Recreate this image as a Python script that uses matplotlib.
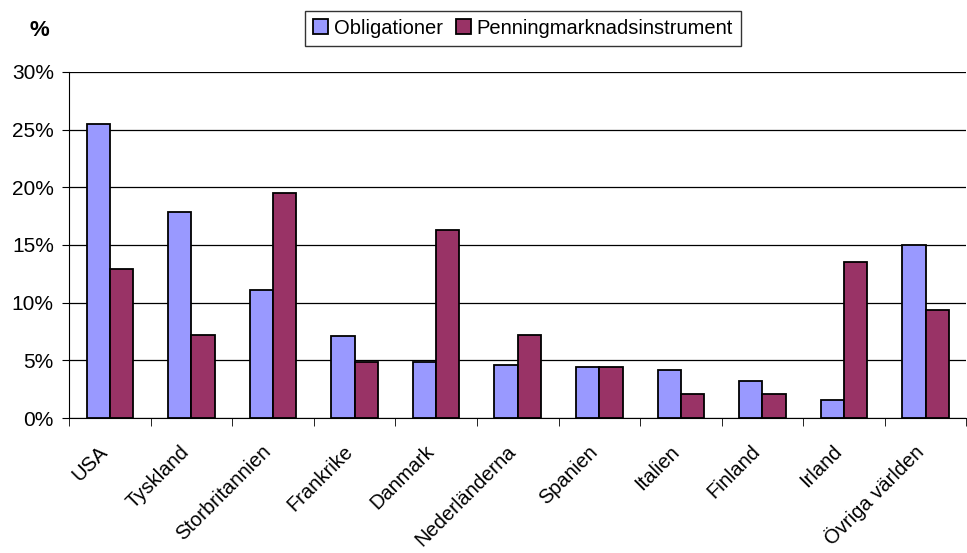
import matplotlib
matplotlib.use("Agg")
import matplotlib.pyplot as plt
import matplotlib.transforms as mtransforms
import numpy as np

plt.rcParams['font.family'] = ['Liberation Sans', 'DejaVu Sans']

lander = ["USA", "Tyskland", "Storbritannien", "Frankrike", "Danmark",
          "Nederländerna", "Spanien", "Italien", "Finland", "Irland", "Övriga världen"]
obligationer = [25.5, 17.9, 11.1, 7.1, 4.9, 4.6, 4.4, 4.2, 3.2, 1.6, 15.0]
penning = [12.9, 7.2, 19.5, 4.9, 16.3, 7.2, 4.4, 2.1, 2.1, 13.5, 9.4]
yticks = [0, 5, 10, 15, 20, 25, 30]

fig = plt.figure(figsize=(9.67, 5.53), dpi=100)
ax = fig.add_axes([0.0714, 0.244, 0.928, 0.626])

x = np.arange(len(lander))
w = 0.285
ax.bar(x - w/2, obligationer, w, color="#9999FF", edgecolor="black", linewidth=1.3,
       label="Obligationer", zorder=3)
ax.bar(x + w/2, penning, w, color="#993366", edgecolor="black", linewidth=1.3,
       label="Penningmarknadsinstrument", zorder=3)

ax.set_xlim(-0.5, len(lander) - 0.5)
ax.set_ylim(0, 30)
ax.set_yticks(yticks)
ax.set_yticklabels([f"{v}%" for v in yticks], fontsize=15)
ax.yaxis.grid(True, color="black", linewidth=0.9, zorder=0)

ax.set_xticks(x)
ax.set_xticklabels(lander, rotation=45, ha="right", va="center",
                   rotation_mode="anchor", fontsize=14.5)
ax.tick_params(axis="x", which="major", length=0, pad=22)
shift = mtransforms.ScaledTranslation(-5/100, 0, fig.dpi_scale_trans)
for lbl in ax.get_xticklabels():
    lbl.set_transform(lbl.get_transform() + shift)
ax.set_xticks(np.arange(len(lander) + 1) - 0.5, minor=True)
ax.tick_params(axis="x", which="minor", length=6, direction="out", color="black")
ax.tick_params(axis="y", length=5, direction="out", color="black", pad=6)

for s in ["top", "right"]:
    ax.spines[s].set_visible(False)
ax.spines["left"].set_color("black")
ax.spines["bottom"].set_color("black")

fig.text(0.041, 0.945, "%", fontsize=16, fontweight="bold", ha="center", va="center")

leg = fig.legend(loc="center", bbox_to_anchor=(0.541, 0.949), ncol=2, fontsize=14.5,
                 frameon=True, fancybox=False, edgecolor="black", handlelength=0.75,
                 handleheight=0.75, handletextpad=0.3, columnspacing=0.6,
                 borderpad=0.4, borderaxespad=0)
leg.get_frame().set_linewidth(1.0)

fig.savefig("out.png", dpi=100)
